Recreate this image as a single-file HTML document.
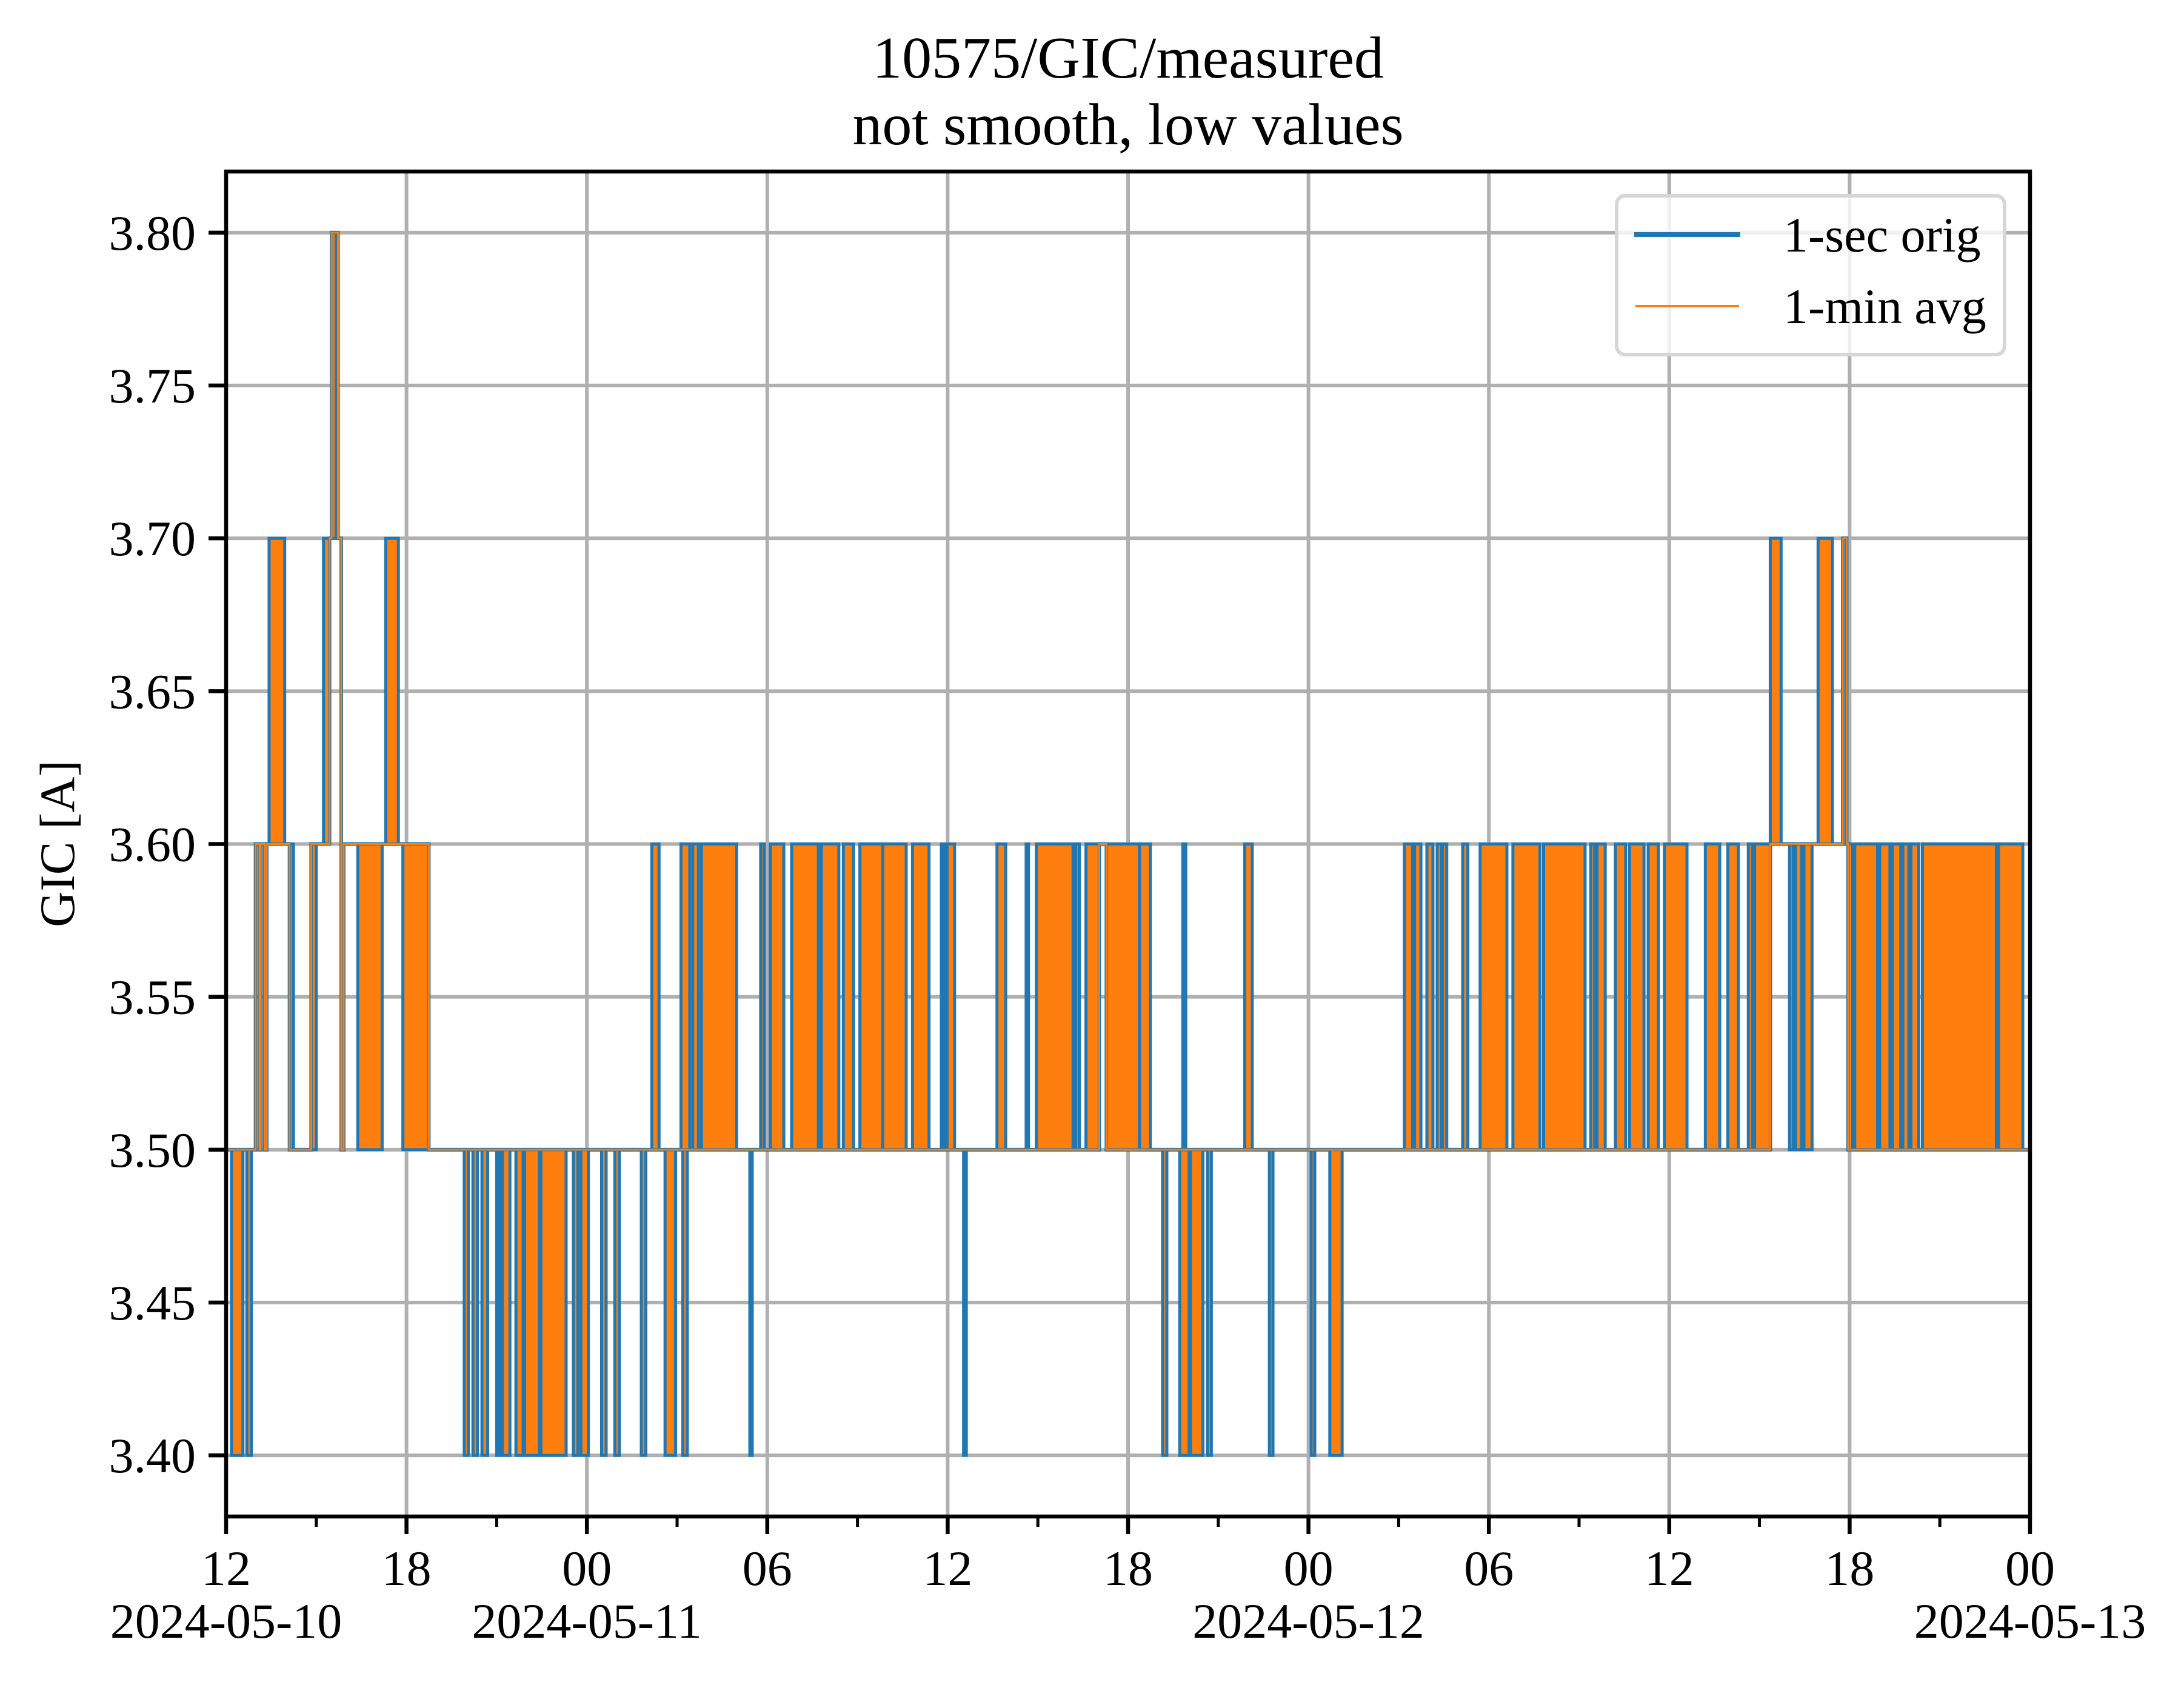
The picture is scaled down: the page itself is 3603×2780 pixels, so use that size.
<!DOCTYPE html>
<html><head><meta charset="utf-8"><style>
html,body{margin:0;padding:0;background:#fff;}
svg{display:block;font-family:"Liberation Serif","DejaVu Serif",serif;}
</style></head><body>
<svg id="chart" width="3603" height="2780" viewBox="0 0 3603 2780" xmlns="http://www.w3.org/2000/svg">
<rect width="3603" height="2780" fill="#fff"/>
<text x="1861" y="128" font-size="98" text-anchor="middle">10575/GIC/measured</text>
<text x="1861" y="238" font-size="98" text-anchor="middle">not smooth, low values</text>
<g id="grid"></g>
<g id="series"></g>
<g id="axes"></g>
<text transform="translate(122,1392) rotate(-90)" font-size="82" text-anchor="middle">GIC [A]</text>
<g>
<rect x="2667" y="323" width="640" height="262" rx="14" fill="#fff" fill-opacity="0.8" stroke="#d6d6d6" stroke-width="6"/>
<line x1="2696" y1="387" x2="2871" y2="387" stroke="#1f77b4" stroke-width="8"/>
<text x="2942" y="415" font-size="82">1-sec orig</text>
<line x1="2698" y1="505" x2="2869" y2="505" stroke="#ff7f0e" stroke-width="4"/>
<text x="2942" y="533" font-size="82">1-min avg</text>
</g>
</svg>
<script>
// step base series: hours since 2024-05-10 12:00 and value
const stepTimes = [0,0.98,1.11,1.15,1.28,1.35,2.11,2.83,3.44,3.51,3.72,3.83,3.91,6.74,29.04,29.28,51.36,53.77,53.9,53.95,60];
const stepValues = [3.5,3.6,3.5,3.6,3.5,3.6,3.5,3.6,3.7,3.8,3.7,3.5,3.6,3.5,3.6,3.5,3.6,3.7,3.6,3.5,3.5];
// fast-oscillation regions: start hour, end hour, low value, high value
const bandStart = [0.18,0.69,1.43,2.11,2.83,3.24,3.51,4.38,5.31,5.88,7.92,8.21,8.51,9.0,9.19,9.64,9.93,10.47,11.55,11.8,12.49,12.93,13.81,14.16,14.6,15.19,15.13,15.52,15.81,17.42,17.78,18.1,18.81,19.8,20.53,21.08,21.84,22.83,23.79,23.98,24.53,25.64,26.61,26.95,28.26,28.6,29.28,
30.38,31.15,31.72,31.82,32.08,32.64,33.88,34.7,36.09,36.71,
39.19,39.53,39.94,40.28,40.46,41.13,41.71,42.8,43.82,45.39,45.6,46.21,46.68,47.3,47.84,49.2,49.95,50.63,50.84,51.36,52.0,52.2,52.48,52.95,53.95,54.17,55.0,55.42,55.77,56.04,56.42,58.95];
const bandEnd = [0.56,0.84,1.95,2.24,3.0,3.44,3.66,5.19,5.73,6.74,8.06,8.36,8.70,9.1,9.44,9.88,10.42,11.31,11.70,12.05,12.64,13.08,13.96,14.4,14.95,15.34,15.42,15.71,16.98,17.5,17.9,18.55,19.7,20.38,20.87,21.84,22.62,23.38,23.89,24.23,24.62,25.93,26.69,28.17,28.38,29.04,30.38,
30.74,31.29,32.03,31.92,32.49,32.77,34.13,34.82,36.21,37.12,
39.46,39.74,40.14,40.42,40.6,41.3,42.6,43.7,45.2,45.52,45.87,46.55,47.16,47.64,48.59,49.68,50.3,50.77,51.36,51.72,52.12,52.4,52.75,53.43,54.1,54.93,55.34,55.7,55.97,56.3,58.88,59.76];
const bandLow = [3.4,3.4,3.6,3.5,3.5,3.6,3.7,3.5,3.6,3.5,3.4,3.4,3.4,3.4,3.4,3.4,3.4,3.4,3.4,3.4,3.4,3.4,3.4,3.5,3.4,3.4,3.5,3.5,3.5,3.4,3.5,3.5,3.5,3.5,3.5,3.5,3.5,3.5,3.5,3.5,3.4,3.5,3.5,3.5,3.5,3.5,3.5,
3.5,3.4,3.4,3.5,3.4,3.4,3.5,3.4,3.4,3.4,
3.5,3.5,3.5,3.5,3.5,3.5,3.5,3.5,3.5,3.5,3.5,3.5,3.5,3.5,3.5,3.5,3.5,3.5,3.5,3.6,3.5,3.5,3.5,3.6,3.5,3.5,3.5,3.5,3.5,3.5,3.5,3.5];
const bandHigh = [3.5,3.5,3.7,3.6,3.6,3.7,3.8,3.6,3.7,3.6,3.5,3.5,3.5,3.5,3.5,3.5,3.5,3.5,3.5,3.5,3.5,3.5,3.5,3.6,3.5,3.5,3.6,3.6,3.6,3.5,3.6,3.6,3.6,3.6,3.6,3.6,3.6,3.6,3.6,3.6,3.5,3.6,3.6,3.6,3.6,3.6,3.6,
3.6,3.5,3.5,3.6,3.5,3.5,3.6,3.5,3.5,3.5,
3.6,3.6,3.6,3.6,3.6,3.6,3.6,3.6,3.6,3.6,3.6,3.6,3.6,3.6,3.6,3.6,3.6,3.6,3.6,3.7,3.6,3.6,3.6,3.7,3.6,3.6,3.6,3.6,3.6,3.6,3.6,3.6];
const yTicks = [3.40,3.45,3.50,3.55,3.60,3.65,3.70,3.75,3.80];
const xTickHours = [0,6,12,18,24,30,36,42,48,54,60];
const xTickLabels = ["12","18","00","06","12","18","00","06","12","18","00"];
const dateHours = [0,12,36,60];
const dateLabels = ["2024-05-10","2024-05-11","2024-05-12","2024-05-13"];

const L=373,R=3349,T=283,B=2502;
const X0=0,X1=60,Y0=3.38,Y1=3.82;
const sx=h=>L+(h-X0)/(X1-X0)*(R-L);
const sy=v=>B-(v-Y0)/(Y1-Y0)*(B-T);
const NS="http://www.w3.org/2000/svg";
function mk(tag,attrs,parent){const e=document.createElementNS(NS,tag);for(const k in attrs)e.setAttribute(k,attrs[k]);parent.appendChild(e);return e;}
const grid=document.getElementById('grid'),series=document.getElementById('series'),axes=document.getElementById('axes');

yTicks.forEach(v=>{
  const g=mk('line',{x1:L,x2:R,y1:sy(v),y2:sy(v),stroke:'#b0b0b0','stroke-width':6},grid);
  
  
});
xTickHours.forEach(h=>{
  const g=mk('line',{x1:sx(h),x2:sx(h),y1:T,y2:B,stroke:'#b0b0b0','stroke-width':6},grid);
  
  
});

let d='M'+sx(stepTimes[0])+','+sy(stepValues[0]);
for(let i=1;i<stepTimes.length;i++){d+=' H'+sx(stepTimes[i])+' V'+sy(stepValues[i]);}
const blue=mk('path',{d:d,fill:'none',stroke:'#1f77b4','stroke-width':6},series);


for(let i=0;i<bandStart.length;i++){
  const x=sx(bandStart[i]),w=Math.max(sx(bandEnd[i])-x,3),y=sy(bandHigh[i]),h=sy(bandLow[i])-y;
  const r=mk('rect',{x:x,y:y,width:w,height:h,fill:'#ff7f0e',stroke:'#1f77b4','stroke-width':5},series);
  
  
}
const orange=mk('path',{d:d,fill:'none',stroke:'#ff7f0e','stroke-width':3},series);



const frame=mk('rect',{x:L,y:T,width:R-L,height:B-T,fill:'none',stroke:'#000','stroke-width':6.5},axes);


yTicks.forEach(v=>{
  const t=mk('line',{x1:L-29,x2:L,y1:sy(v),y2:sy(v),stroke:'#000','stroke-width':6.5},axes);
  
  
  const lb=mk('text',{x:L-50,y:sy(v)+28,'font-size':82,'text-anchor':'end'},axes);
  
  
  lb.textContent=v.toFixed(2);
});
xTickHours.forEach((h,i)=>{
  const t=mk('line',{x1:sx(h),x2:sx(h),y1:B,y2:B+29,stroke:'#000','stroke-width':6.5},axes);
  
  
  const lb=mk('text',{x:sx(h),y:2615,'font-size':82,'text-anchor':'middle'},axes);
  
  
  lb.textContent=xTickLabels[i];
  if(i<xTickHours.length-1){
    const m=mk('line',{x1:sx(h+3),x2:sx(h+3),y1:B,y2:B+17,stroke:'#000','stroke-width':5},axes);
    
    
  }
});
dateHours.forEach((h,i)=>{
  const lb=mk('text',{x:sx(h),y:2702,'font-size':82,'text-anchor':'middle'},axes);
  
  
  lb.textContent=dateLabels[i];
});
</script>
</body></html>
